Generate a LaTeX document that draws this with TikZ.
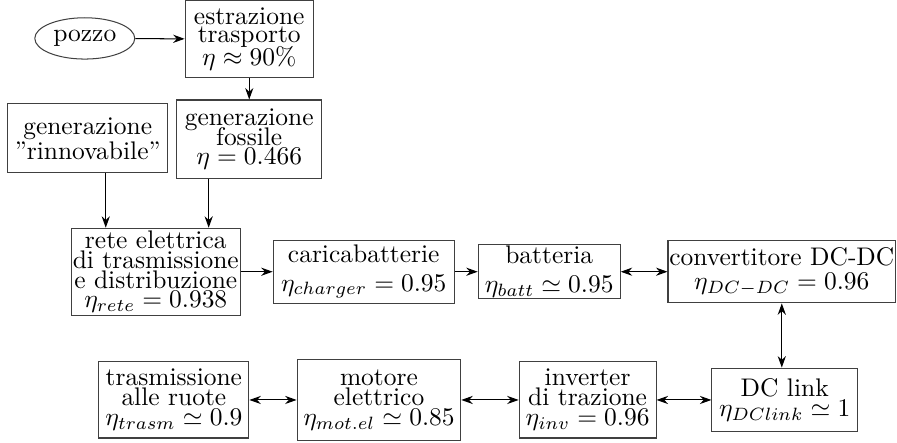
\documentclass[tikz,border=0pt]{standalone}
\usepackage{tikz}
\usetikzlibrary{arrows.meta, positioning, shapes.geometric}

\begin{document}
\begin{tikzpicture}[
    blk/.style={draw=black!75, inner sep=0.5pt, align=center,
      font={\fontsize{10}{7.8}\selectfont\lineskiplimit=-4pt}},
    arrow/.style={-{Stealth[length=4.5pt,width=3.2pt]}},
    biarrow/.style={{Stealth[length=4.5pt,width=3.2pt]}-{Stealth[length=4.5pt,width=3.2pt]}}
  ]
  \useasboundingbox (0,0) rectangle (12.38,-6.11);

  % filiera a monte
  \node[draw=black!75, ellipse, minimum width=1.38cm, minimum height=0.57cm, inner sep=0pt] (pozzo) at (1.17,-0.53) {pozzo};
  \node[blk, minimum width=1.77cm, minimum height=1.06cm] (estr) at (3.44,-0.54) {estrazione\\[-0.5pt]trasporto\\[1.2pt]$\eta\approx 90\%$};
  \node[blk, minimum width=2.21cm, minimum height=0.95cm] (rinn) at (1.21,-1.91) {generazione\\[2pt]\textquotedblright rinnovabile\textquotedblright};
  \node[blk, minimum width=2.00cm, minimum height=1.08cm] (foss) at (3.44,-1.92) {generazione\\fossile\\$\eta=0.466$};

  % rete e ricarica
  \node[blk, minimum width=2.32cm, minimum height=1.20cm] (rete) at (2.15,-3.75) {rete elettrica\\di trasmissione\\e distribuzione\\$\eta_{rete}=0.938$};
  \node[blk, minimum width=2.50cm, minimum height=0.87cm] (carica) at (5.02,-3.75) {caricabatterie\\[3.4pt]$\eta_{charger}=0.95$};
  \node[blk, minimum width=1.96cm, minimum height=0.75cm] (batt) at (7.58,-3.75) {batteria\\[3.4pt]$\eta_{batt}\simeq 0.95$};
  \node[blk, minimum width=3.09cm, minimum height=0.86cm] (conv) at (10.79,-3.75) {convertitore DC-DC\\[1.6pt]$\eta_{DC-DC}=0.96$};

  % trazione
  \node[blk, minimum width=2.01cm, minimum height=0.88cm] (dclink) at (10.83,-5.52) {DC link\\[0.4pt]$\eta_{DClink}\simeq 1$};
  \node[blk, minimum width=1.89cm, minimum height=1.05cm] (inv) at (8.11,-5.52) {inverter\\di trazione\\$\eta_{inv}=0.96$};
  \node[blk, minimum width=2.26cm, minimum height=1.13cm] (motore) at (5.23,-5.52) {motore\\elettrico\\$\eta_{mot.el}\simeq 0.85$};
  \node[blk, minimum width=2.07cm, minimum height=1.05cm] (trasm) at (2.40,-5.52) {trasmissione\\alle ruote\\$\eta_{trasm}\simeq 0.9$};

  \coordinate (inR) at ([xshift=0.48cm]rete.north west);
  \coordinate (inF) at ([xshift=-0.44cm]rete.north east);

  \draw[arrow] (pozzo) -- (estr);
  \draw[arrow] (estr) -- (foss);
  \draw[arrow] (rinn.south -| inR) -- (inR);
  \draw[arrow] (foss.south -| inF) -- (inF);
  \draw[arrow] (rete) -- (carica);
  \draw[arrow] (carica) -- (batt);
  \draw[biarrow] (batt) -- (conv);
  \draw[biarrow] (conv.south) -- (conv.south |- dclink.north);
  \draw[biarrow] (dclink) -- (inv);
  \draw[biarrow] (inv) -- (motore);
  \draw[biarrow] (motore) -- (trasm);
\end{tikzpicture}
\end{document}
